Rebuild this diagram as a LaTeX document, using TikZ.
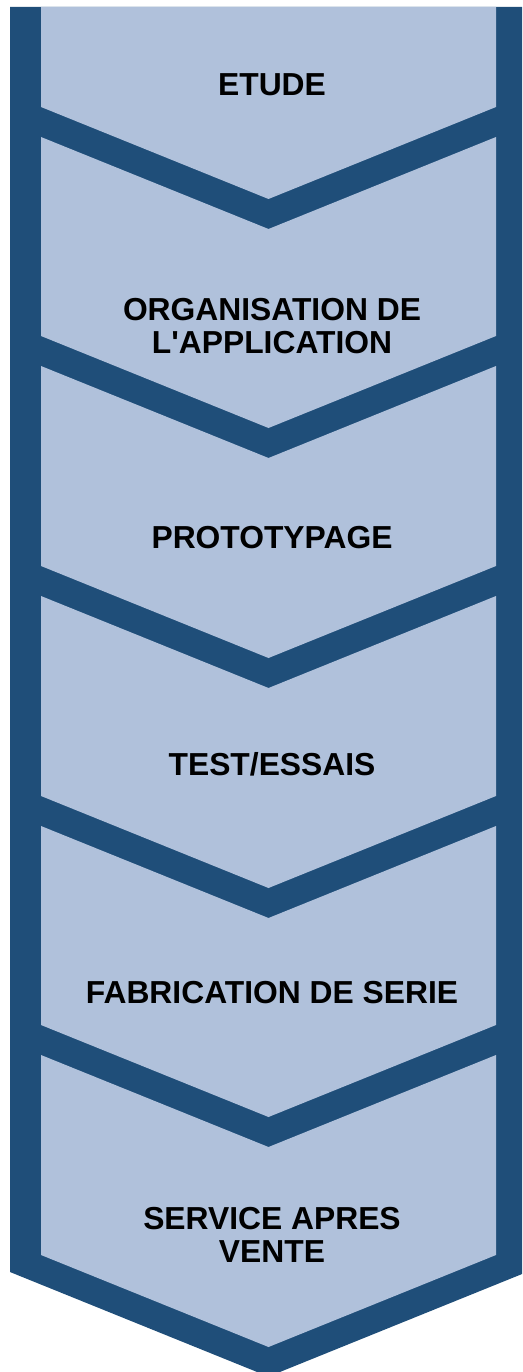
\documentclass[tikz,border=0pt]{standalone}
\usepackage{fontspec}
\setmainfont{Liberation Sans}[Ligatures=TeXOff]
\definecolor{bandblue}{RGB}{31,78,121}
\definecolor{fillblue}{RGB}{176,193,219}
\begin{document}
\begin{tikzpicture}[x=1pt,y=-1pt,
  lab/.style={font=\bfseries\fontsize{31.8}{33}\selectfont, align=center, inner sep=0pt, text=black},
  panel/.style={fill=fillblue}]
\useasboundingbox (0,0) rectangle (522,1372);
\clip (0,0) rectangle (522,1372);
% dark outer band
\fill[bandblue] (10,7) -- (527,7) -- (527,1272) -- (268.5,1376.6) -- (10,1272) -- cycle;
% light panels
\fill[panel] (41,7) -- (496,7) -- (496,107) -- (268.5,199) -- (41,107) -- cycle;
\foreach \a/\b in {107/336,336/566,566/796,796/1025,1025/1255}{
  \fill[panel] (41,\a+30) -- (268.5,\a+122) -- (496,\a+30) -- (496,\b) -- (268.5,\b+92) -- (41,\b) -- cycle;
}
% labels
\node[lab] (s1) at (272,85) {ETUDE};
\node[lab] (s2) at (272,326.5) {ORGANISATION DE\\L'APPLICATION};
\node[lab] (s3) at (272,537.5) {PROTOTYPAGE};
\node[lab] (s4) at (272,764.5) {TEST/ESSAIS};
\node[lab] (s5) at (272,992.5) {FABRICATION DE SERIE};
\node[lab] (s6) at (272,1235) {SERVICE APRES\\VENTE};
\end{tikzpicture}
\end{document}
